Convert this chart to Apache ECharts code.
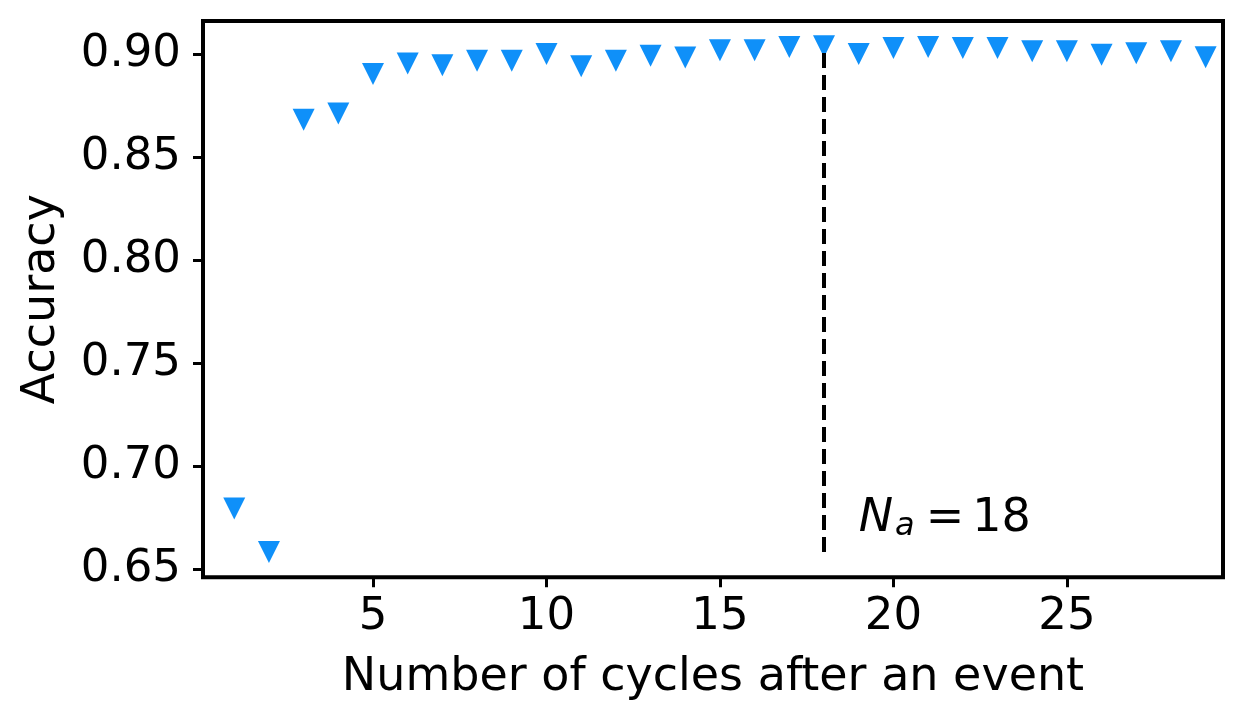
<!DOCTYPE html>
<html>
<head>
<meta charset="utf-8">
<script src="https://cdn.jsdelivr.net/npm/echarts@6/dist/echarts.min.js"></script>
<style>
html,body{margin:0;padding:0;background:#fff;}
#chart{width:1245px;height:722px;}
</style>
</head>
<body>
<div id="chart"></div>
<script>
// Data
const cycles = [1,2,3,4,5,6,7,8,9,10,11,12,13,14,15,16,17,18,19,20,21,22,23,24,25,26,27,28,29];
const accuracy = [0.6796,0.6585,0.8684,0.8715,0.8906,0.8957,0.8949,0.8971,0.8971,0.9004,0.8944,0.8971,0.8995,0.8987,0.9022,0.9022,0.9038,0.9041,0.9004,0.9033,0.9038,0.9033,0.9033,0.9017,0.9017,0.9000,0.9007,0.9017,0.8988];
const xTicks = [5,10,15,20,25];
const yTicks = [0.65,0.70,0.75,0.80,0.85,0.90];
const Na = 18;
const annotationPos = [19, 0.668];

const accMin = Math.min(...accuracy);
const accMax = Math.max(...accuracy);
const pad = (accMax - accMin) * 0.05;

const chart = echarts.init(document.getElementById('chart'), null, {renderer:'canvas'});
const font = 'DejaVu Sans';
chart.setOption({
  animation:false,
  grid:{left:203, right:22, top:21, bottom:144.7, show:true, borderColor:'#000', borderWidth:4, backgroundColor:'transparent'},
  xAxis:{
    type:'value', min:0.1, max:29.5,
    name:'Number of cycles after an event', nameLocation:'middle', nameGap:78,
    nameTextStyle:{fontFamily:font, fontSize:46, color:'#000'},
    axisLine:{show:false},
    axisTick:{show:true, length:10, lineStyle:{color:'#000', width:3}, customValues:xTicks},
    axisLabel:{fontFamily:font, fontSize:45, color:'#000', margin:18, customValues:xTicks, formatter:v=>String(v)},
    splitLine:{show:false}
  },
  yAxis:{
    type:'value', min:accMin - pad, max:accMax + pad,
    name:'Accuracy', nameLocation:'middle', nameGap:138, nameRotate:90,
    nameTextStyle:{fontFamily:font, fontSize:46, color:'#000'},
    axisLine:{show:false},
    axisTick:{show:true, length:10, lineStyle:{color:'#000', width:3}, customValues:yTicks},
    axisLabel:{fontFamily:font, fontSize:45, color:'#000', margin:22, customValues:yTicks, formatter:v=>v.toFixed(2)},
    splitLine:{show:false}
  },
  series:[
    {
      type:'scatter', symbol:'triangle', symbolRotate:180, symbolSize:22,
      itemStyle:{color:'#0f90f9', opacity:1},
      emphasis:{disabled:true},
      data: cycles.map((c,i)=>[c, accuracy[i]]), z:2
    },
    {
      type:'line', symbol:'none', z:3,
      lineStyle:{color:'#000', width:4, type:[15,7]},
      emphasis:{disabled:true},
      data:[[Na, accMin],[Na, accuracy[cycles.indexOf(Na)]]]
    },
    {
      type:'scatter', symbolSize:0, z:4,
      itemStyle:{opacity:1},
      emphasis:{disabled:true},
      data:[annotationPos],
      label:{show:true, position:[0,0], align:'left', verticalAlign:'bottom', offset:[0,10], color:'#000', opacity:1,
        formatter:'{n|N}{s|a}{e|=}{t|' + Na + '}',
        rich:{
          n:{fontFamily:font, fontStyle:'italic', fontSize:46, color:'#000'},
          s:{fontFamily:font, fontStyle:'italic', fontSize:32, color:'#000', verticalAlign:'bottom', padding:[0,0,0,2], lineHeight:40},
          e:{fontFamily:font, fontSize:46, color:'#000', padding:[0,8,0,11]},
          t:{fontFamily:font, fontSize:46, color:'#000'}
        }
      }
    }
  ]
});
</script>
</body>
</html>
